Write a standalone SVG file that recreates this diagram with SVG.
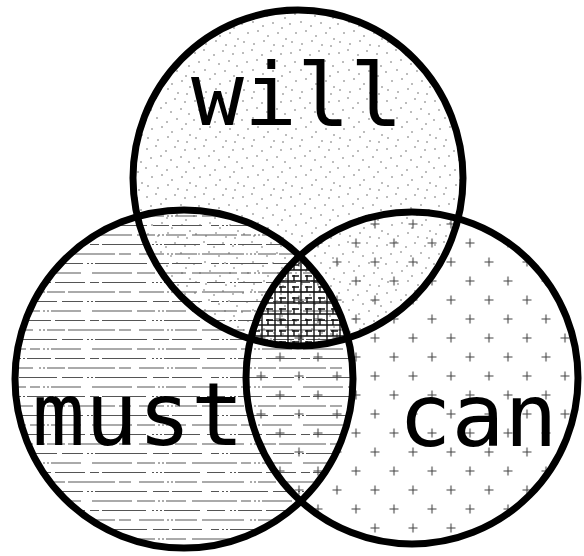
<svg xmlns="http://www.w3.org/2000/svg" width="584" height="556" viewBox="0 0 584 556">
<style>
.ring{fill:none;stroke:#000;stroke-width:7}
.lbl{font-family:"DejaVu Sans Mono","Liberation Mono",monospace;font-size:88px;fill:#000;text-anchor:middle}
</style>
<defs>
<pattern id="dots" patternUnits="userSpaceOnUse" width="48" height="48">
<g fill="#444">
<circle cx="3" cy="5" r="0.7"/><circle cx="12" cy="2" r="0.7"/><circle cx="22" cy="7" r="0.7"/><circle cx="31" cy="3" r="0.7"/><circle cx="41" cy="6" r="0.7"/>
<circle cx="7" cy="14" r="0.7"/><circle cx="17" cy="12" r="0.7"/><circle cx="27" cy="16" r="0.7"/><circle cx="37" cy="13" r="0.7"/><circle cx="45" cy="18" r="0.7"/>
<circle cx="2" cy="24" r="0.7"/><circle cx="13" cy="22" r="0.7"/><circle cx="23" cy="26" r="0.7"/><circle cx="33" cy="23" r="0.7"/><circle cx="42" cy="28" r="0.7"/>
<circle cx="8" cy="33" r="0.7"/><circle cx="18" cy="31" r="0.7"/><circle cx="28" cy="36" r="0.7"/><circle cx="38" cy="33" r="0.7"/><circle cx="46" cy="39" r="0.7"/>
<circle cx="4" cy="42" r="0.7"/><circle cx="14" cy="44" r="0.7"/><circle cx="24" cy="41" r="0.7"/><circle cx="34" cy="45" r="0.7"/><circle cx="43" cy="46" r="0.7"/>
</g>
</pattern>
<pattern id="hlines" patternUnits="userSpaceOnUse" width="211" height="38" y="4">
<path d="M0 3H211" stroke="#555" stroke-width="1.2" stroke-dasharray="26 4 10 3 2 2 2 2 30 11 40 5 18 3 2 2 2 2 20 6"/>
<path d="M0 12.5H211" stroke="#555" stroke-width="1.2" stroke-dasharray="14 5 2 2 2 2 24 4 30 5 9 3 44 6 2 2 2 2 2 2 36 7"/>
<path d="M0 22H211" stroke="#555" stroke-width="1.2" stroke-dasharray="33 6 2 2 2 2 18 3 47 4 12 8 25 3 2 2 2 2 22 5"/>
<path d="M0 31.5H211" stroke="#555" stroke-width="1.2" stroke-dasharray="8 3 2 2 2 2 38 5 21 4 2 2 2 2 52 6 16 3 30 9"/>
</pattern>
<pattern id="plus" patternUnits="userSpaceOnUse" width="38" height="38" x="4.5" y="5.5">
<path d="M5 9.5H14M9.5 5V14M24 28.5H33M28.5 24V33" stroke="#444" stroke-width="1.1" fill="none"/>
</pattern>
<pattern id="grid" patternUnits="userSpaceOnUse" width="13" height="11">
<path d="M2 0V11M8 0V6M0 6H13M6 1H13" stroke="#111" stroke-width="1.4" fill="none"/>
</pattern>
<clipPath id="cTop"><ellipse cx="298" cy="178" rx="165" ry="168"/></clipPath>
<clipPath id="cLeft"><ellipse cx="184" cy="379" rx="169" ry="169"/></clipPath>
</defs>
<rect width="584" height="556" fill="#fff"/>
<g id="fills">
<ellipse cx="298" cy="178" rx="165" ry="168" fill="url(#dots)"/>
<ellipse cx="184" cy="379" rx="169" ry="169" fill="url(#hlines)"/>
<ellipse cx="412" cy="378" rx="166" ry="166" fill="url(#plus)"/>
<g clip-path="url(#cTop)"><g clip-path="url(#cLeft)"><ellipse cx="412" cy="378" rx="166" ry="166" fill="url(#grid)"/></g></g>
</g>
<g id="connectors"/>
<g id="will">
<ellipse class="ring" cx="298" cy="178" rx="165" ry="168"/>
<text class="lbl" x="297" y="125">will</text>
</g>
<g id="must">
<ellipse class="ring" cx="184" cy="379" rx="169" ry="169"/>
<text class="lbl" x="138" y="445">must</text>
</g>
<g id="can">
<ellipse class="ring" cx="412" cy="378" rx="166" ry="166"/>
<text class="lbl" x="478" y="446">can</text>
</g>
</svg>
